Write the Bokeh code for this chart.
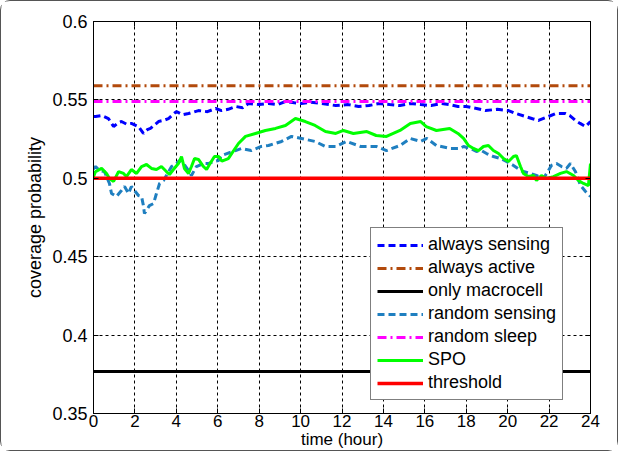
from bokeh.plotting import figure
from bokeh.models import FixedTicker, LinearAxis, Range1d
from bokeh.embed import file_html
from bokeh.resources import INLINE

# ---- data ----
const_hours = [0, 24]
always_active = [0.559, 0.559]
random_sleep = [0.549, 0.549]
only_macrocell = [0.3768, 0.3768]
threshold = [0.5, 0.5]

as_hours = [0.0, 0.1, 0.4, 0.72, 0.97, 1.2, 1.35, 1.6, 1.83, 2.17, 2.41, 2.6, 2.75, 3.14, 3.4, 3.62,
            4.0, 4.3, 4.59, 5.07, 5.5, 5.9, 6.18, 6.5, 6.86, 7.2, 7.48, 8.0, 8.45, 8.9, 9.27, 9.7,
            10.04, 10.5, 11.0, 11.7, 12.3, 12.8, 13.3, 13.8, 14.3, 14.8, 15.3, 15.8, 16.3, 16.8,
            17.2, 17.6, 18.0, 18.5, 18.93, 19.5, 20.04, 20.4, 20.86, 21.2, 21.49, 21.97, 22.31,
            22.79, 23.0, 23.27, 23.5, 23.76, 24.0]
always_sensing = [0.5394, 0.5394, 0.5400, 0.5381, 0.5330, 0.5355, 0.5362, 0.5345, 0.5350, 0.5330,
                  0.5286, 0.5310, 0.5318, 0.5362, 0.5370, 0.5381, 0.5426, 0.5405, 0.5413, 0.5432,
                  0.5425, 0.5445, 0.5432, 0.5440, 0.5458, 0.5450, 0.5477, 0.5470, 0.5477, 0.5470,
                  0.5490, 0.5482, 0.5477, 0.5485, 0.5477, 0.5464, 0.5470, 0.5458, 0.5464, 0.5477,
                  0.5470, 0.5464, 0.5477, 0.5470, 0.5464, 0.5477, 0.5470, 0.5458, 0.5458, 0.5445,
                  0.5432, 0.5440, 0.5432, 0.5413, 0.5394, 0.5380, 0.5369, 0.5394, 0.5413, 0.5413,
                  0.5400, 0.5369, 0.5350, 0.5330, 0.5362]

rs_hours = [0.0, 0.10, 0.29, 0.53, 0.77, 0.87, 1.11, 1.35, 1.50, 1.69, 1.83, 1.98, 2.17, 2.32,
            2.41, 2.46, 2.70, 2.90, 3.04, 3.19, 3.38, 3.52, 3.77, 4.01, 4.15, 4.35, 4.59, 4.73,
            4.97, 5.31, 5.55, 5.79, 6.04, 6.18, 6.86, 7.15, 7.62, 8.1, 8.45, 9.08, 9.56, 10.04,
            10.7, 11.2, 11.7, 12.22, 12.9, 13.65, 14.15, 14.8, 15.3, 15.8, 16.1, 16.56, 17.24,
            17.7, 17.87, 18.20, 18.49, 18.73, 18.98, 19.31, 19.65, 19.94, 20.28, 20.62, 20.76,
            21.10, 21.39, 21.73, 21.97, 22.11, 22.36, 22.60, 22.84, 23.03, 23.27, 23.52, 23.76,
            24.0]
random_sensing = [0.5060, 0.5075, 0.5050, 0.5043, 0.4967, 0.4903, 0.4884, 0.4922, 0.4948, 0.4903,
                  0.4948, 0.4922, 0.4890, 0.4884, 0.4826, 0.4775, 0.4826, 0.4839, 0.4903, 0.4967,
                  0.4986, 0.5018, 0.5075, 0.5094, 0.5114, 0.5094, 0.5050, 0.5018, 0.5075, 0.5094,
                  0.5094, 0.5107, 0.5114, 0.5145, 0.5177, 0.5190, 0.5177, 0.5203, 0.5209, 0.5235,
                  0.5267, 0.5254, 0.5235, 0.5203, 0.5203, 0.5235, 0.5203, 0.5203, 0.5177, 0.5209,
                  0.5254, 0.5235, 0.5254, 0.5209, 0.5190, 0.5190, 0.5203, 0.5190, 0.5171, 0.5177,
                  0.5158, 0.5139, 0.5126, 0.5107, 0.5082, 0.5050, 0.5043, 0.5031, 0.5018, 0.4999,
                  0.5050, 0.5082, 0.5094, 0.5075, 0.5063, 0.5094, 0.5043, 0.4954, 0.4916, 0.4884]

spo_hours = [0.0, 0.10, 0.39, 0.63, 0.77, 0.97, 1.21, 1.45, 1.59, 1.83, 2.08, 2.32, 2.56, 2.80,
             3.04, 3.28, 3.52, 3.67, 3.86, 4.10, 4.25, 4.39, 4.59, 4.73, 4.88, 5.07, 5.31, 5.46,
             5.60, 5.84, 6.04, 6.2, 6.51, 7.0, 7.34, 7.82, 8.3, 8.79, 9.27, 9.75, 10.23, 10.7,
             11.2, 11.7, 12.07, 12.55, 13.2, 13.65, 14.15, 14.8, 15.3, 15.8, 16.07, 16.56, 17.2,
             17.6, 17.87, 18.11, 18.35, 18.59, 18.83, 19.07, 19.31, 19.56, 19.80, 20.04, 20.28,
             20.42, 20.62, 20.76, 21.00, 21.25, 21.39, 21.63, 21.87, 22.21, 22.55, 22.84, 23.18,
             23.42, 23.66, 23.90, 24.0]
spo = [0.5010, 0.5043, 0.5063, 0.5031, 0.4999, 0.4980, 0.5043, 0.5031, 0.5011, 0.5056, 0.5031,
       0.5075, 0.5088, 0.5063, 0.5056, 0.5075, 0.5043, 0.5024, 0.5056, 0.5094, 0.5139, 0.5063,
       0.5031, 0.5075, 0.5126, 0.5120, 0.5075, 0.5056, 0.5088, 0.5139, 0.5139, 0.5110, 0.5126,
       0.5222, 0.5267, 0.5286, 0.5305, 0.5318, 0.5337, 0.5381, 0.5362, 0.5337, 0.5298, 0.5286,
       0.5305, 0.5286, 0.5298, 0.5273, 0.5267, 0.5305, 0.5350, 0.5362, 0.5330, 0.5305, 0.5318,
       0.5286, 0.5254, 0.5209, 0.5190, 0.5177, 0.5203, 0.5209, 0.5177, 0.5158, 0.5126, 0.5107,
       0.5139, 0.5145, 0.5075, 0.5031, 0.5011, 0.5018, 0.4986, 0.5018, 0.4999, 0.5011, 0.5031,
       0.5043, 0.5018, 0.4986, 0.4967, 0.4954, 0.5094]

x_ticks = list(range(0, 25, 2))
y_ticks = [0.35, 0.4, 0.45, 0.5, 0.55, 0.6]
y_tick_labels = ["0.35", "0.4", "0.45", "0.5", "0.55", "0.6"]

FONT = "Liberation Sans"

p = figure(width=618, height=451, output_backend="svg", toolbar_location=None,
           x_range=Range1d(0, 24), y_range=Range1d(0.35, 0.6),
           min_border_left=92, min_border_right=29, min_border_top=20, min_border_bottom=39)
p.styles = {"border": "1px solid #555555", "border-radius": "10px"}
p.background_fill_color = "white"
p.border_fill_color = "white"
p.outline_line_color = "black"
p.outline_line_width = 1

p.line(as_hours, always_sensing, line_color="#0000ff", line_width=3, line_dash="7 4",
       legend_label="always sensing")
p.line(const_hours, always_active, line_color="#b24a0c", line_width=3, line_dash="9 4 2 4",
       legend_label="always active")
p.line(const_hours, only_macrocell, line_color="black", line_width=3,
       legend_label="only macrocell")
p.line(rs_hours, random_sensing, line_color="#1f7fc0", line_width=3, line_dash="7 4",
       legend_label="random sensing")
p.line(const_hours, random_sleep, line_color="#ff00ff", line_width=3, line_dash="9 4 2 4",
       legend_label="random sleep")
p.line(spo_hours, spo, line_color="#00ff00", line_width=3, legend_label="SPO")
p.line(const_hours, threshold, line_color="#ff0000", line_width=3.5, legend_label="threshold")

# axes
p.xaxis.ticker = FixedTicker(ticks=x_ticks)
p.yaxis.ticker = FixedTicker(ticks=y_ticks)
p.yaxis.major_label_overrides = {t: l for t, l in zip(y_ticks, y_tick_labels)}
for ax in (p.xaxis[0], p.yaxis[0]):
    ax.axis_line_color = "black"
    ax.major_tick_in = 5
    ax.major_tick_out = 0
    ax.minor_tick_line_color = None
    ax.major_tick_line_color = "black"
    ax.major_label_text_font = FONT
    ax.major_label_text_color = "black"
    ax.axis_label_text_font = FONT
    ax.axis_label_text_font_style = "normal"
    ax.axis_label_text_color = "black"
p.xaxis.major_label_text_font_size = "17px"
p.yaxis.major_label_text_font_size = "18px"
p.xaxis.axis_label = "time (hour)"
p.yaxis.axis_label = "coverage probability"
p.xaxis.axis_label_text_font_size = "17px"
p.yaxis.axis_label_text_font_size = "18px"
p.xaxis.major_label_standoff = 1
p.xaxis.axis_label_standoff = 0
p.yaxis.major_label_standoff = 6
p.yaxis.axis_label_standoff = 4

for loc, tk in (("above", x_ticks), ("right", y_ticks)):
    ax = LinearAxis(ticker=FixedTicker(ticks=tk), major_tick_in=5, major_tick_out=0,
                    minor_tick_line_color=None, major_label_text_font_size="0px",
                    axis_line_color="black", major_tick_line_color="black")
    ax.major_label_text_color = None
    p.add_layout(ax, loc)

p.grid.grid_line_color = "black"
p.grid.grid_line_dash = "3 3"
p.grid.grid_line_width = 1
p.xgrid.ticker = FixedTicker(ticks=x_ticks)
p.ygrid.ticker = FixedTicker(ticks=y_ticks)

# legend
lg = p.legend[0]
lg.location = (277, 13)
lg.border_line_color = "black"
lg.border_line_width = 1
lg.background_fill_color = "white"
lg.background_fill_alpha = 1
lg.label_text_font = FONT
lg.label_text_font_size = "18px"
lg.label_text_color = "black"
lg.glyph_width = 46
lg.glyph_height = 20
lg.label_height = 20
lg.spacing = 2
lg.padding = 6
lg.margin = 0
lg.label_standoff = 5

open("out.html", "w").write(file_html(p, INLINE))
